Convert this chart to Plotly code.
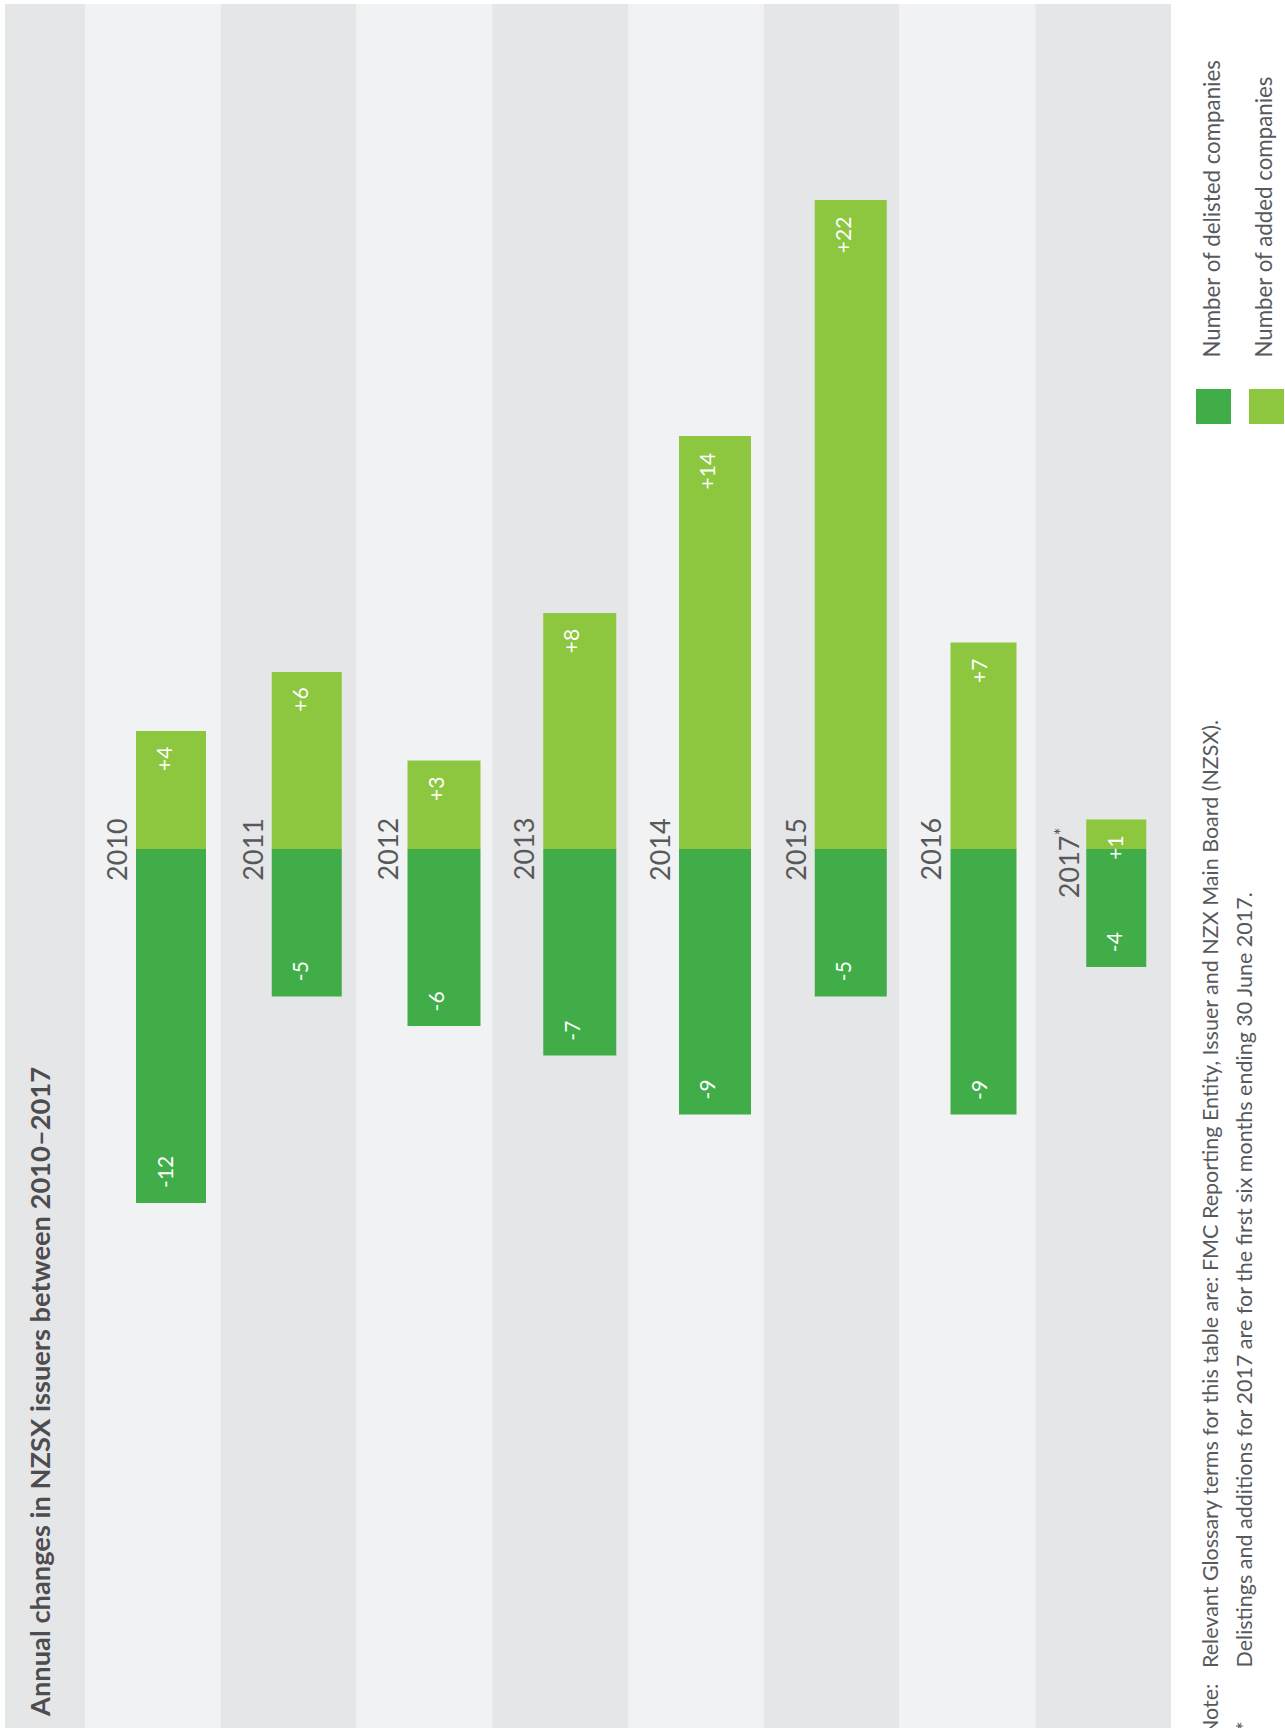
import plotly.graph_objects as go

# ---------------- data ----------------
years = ["2010", "2011", "2012", "2013", "2014", "2015", "2016", "2017"]
year_labels = ["2010", "2011", "2012", "2013", "2014", "2015", "2016", "2017<sup>*</sup>"]
added = [4, 6, 3, 8, 14, 22, 7, 1]
delisted = [-12, -5, -6, -7, -9, -5, -9, -4]

title_text = "Annual changes in NZSX issuers between 2010–2017"
legend_delisted = "Number of delisted companies"
legend_added = "Number of added companies"
note_label = "Note:"
note_line1 = "Relevant Glossary terms for this table are: FMC Reporting Entity, Issuer and NZX Main Board (NZSX)."
note_star = "*"
note_line2 = "Delistings and additions for 2017 are for the first six months ending 30 June 2017."

# ---------------- style ----------------
W, H = 1285, 1728
FONT = "Lato, 'Open Sans', sans-serif"
DARK = "#41ad49"
LIGHT = "#8dc63f"
BG_GRAY = "#e5e6e8"
BG_LIGHT = "#f1f2f4"
TXT = "#58595b"

PLOT_L, PLOT_R = 85, 1171          # px, left/right of year columns
PLOT_TOP = 4                       # px
ZERO_PX = 849                      # px from top where the value axis is 0
PX_PER_UNIT = 29.5
COL_PX = (PLOT_R - PLOT_L) / len(years)
BAR_LEFT_PX = 51                   # bar left edge from column left
BAR_W_PX = [70, 70, 73, 73, 72, 72, 66, 60]

xs = list(range(len(years)))
bar_offsets = [(BAR_LEFT_PX - COL_PX / 2) / COL_PX for _ in xs]
bar_widths = [w / COL_PX for w in BAR_W_PX]

y_top = (ZERO_PX - PLOT_TOP) / PX_PER_UNIT
y_bot = -(H - ZERO_PX) / PX_PER_UNIT

fig = go.Figure()
fig.add_trace(go.Bar(x=xs, y=added, base=0, offset=bar_offsets, width=bar_widths,
                     marker=dict(color=LIGHT, line=dict(width=0)), name=legend_added,
                     hoverinfo="skip"))
fig.add_trace(go.Bar(x=xs, y=delisted, base=0, offset=bar_offsets, width=bar_widths,
                     marker=dict(color=DARK, line=dict(width=0)), name=legend_delisted,
                     hoverinfo="skip"))

shapes = []
# title strip
shapes.append(dict(type="rect", xref="paper", yref="y domain", x0=5 / W, x1=PLOT_L / W,
                   y0=0, y1=1, fillcolor=BG_GRAY, line=dict(width=0), layer="below"))
# alternating year columns
for i in xs:
    shapes.append(dict(type="rect", xref="x", yref="y domain", x0=i - 0.5, x1=i + 0.5,
                       y0=0, y1=1, fillcolor=BG_LIGHT if i % 2 == 0 else BG_GRAY,
                       line=dict(width=0), layer="below"))
# legend swatches
def sq(x0, y0, color):
    return dict(type="rect", xref="paper", yref="paper", x0=x0 / W, x1=(x0 + 35) / W,
                y0=1 - (y0 + 35) / H, y1=1 - y0 / H, fillcolor=color, line=dict(width=0))
shapes.append(sq(1196, 389, DARK))
shapes.append(sq(1249, 389, LIGHT))

ann = []
# year labels
for i, lab in zip(xs, year_labels):
    ann.append(dict(x=i, y=0, xref="x", yref="y", text=lab, showarrow=False,
                    textangle=-90, xanchor="center", yanchor="middle",
                    xshift=-36, yshift=-14 if "sup" in lab else 0,
                    font=dict(family=FONT, size=27, color=TXT)))
# value labels
for i, a, d in zip(xs, added, delisted):
    ann.append(dict(x=i, y=a, xref="x", yref="y", text=f"+{a}", showarrow=False,
                    textangle=-90, xanchor="center", yanchor="top", xshift=11, yshift=-14,
                    font=dict(family=FONT, size=21, color="white")))
    ann.append(dict(x=i, y=d, xref="x", yref="y", text=f"{d}", showarrow=False,
                    textangle=-90, xanchor="center", yanchor="bottom", xshift=11, yshift=13,
                    font=dict(family=FONT, size=21, color="white")))

def pann(text, xpx, ypx, yanchor, size, color=TXT, weight="normal"):
    return dict(x=xpx / W, y=1 - ypx / H, xref="paper", yref="paper", text=text,
                showarrow=False, textangle=-90, xanchor="center", yanchor=yanchor,
                font=dict(family=FONT, size=size, color=color, weight=weight))

ann.append(pann(title_text, 39, 1719, "bottom", 27.3, "#4d4d4f", 700))
ann.append(pann(legend_delisted, 1211, 360, "bottom", 22.3))
ann.append(pann(legend_added, 1263, 360, "bottom", 22.3))
ann.append(pann(note_line1, 1210, 1670, "bottom", 21.5))
ann.append(pann(note_label, 1210, 1682, "top", 21.5))
ann.append(pann(note_line2, 1243, 1670, "bottom", 21.5))
ann.append(pann(note_star, 1243, 1720, "top", 21.5))

fig.update_layout(
    width=W, height=H,
    margin=dict(l=0, r=0, t=0, b=0),
    paper_bgcolor="white", plot_bgcolor="rgba(0,0,0,0)",
    barmode="overlay", showlegend=False, hovermode=False,
    xaxis=dict(domain=[PLOT_L / W, PLOT_R / W], range=[-0.5, len(years) - 0.5],
               visible=False, fixedrange=True),
    yaxis=dict(domain=[0, (H - PLOT_TOP) / H], range=[y_bot, y_top],
               visible=False, fixedrange=True),
    shapes=shapes, annotations=ann,
)

fig.write_html(
    "out.html",
    config={"displayModeBar": False},
    post_script="document.body.style.margin='0';document.body.style.overflow='hidden';",
)
